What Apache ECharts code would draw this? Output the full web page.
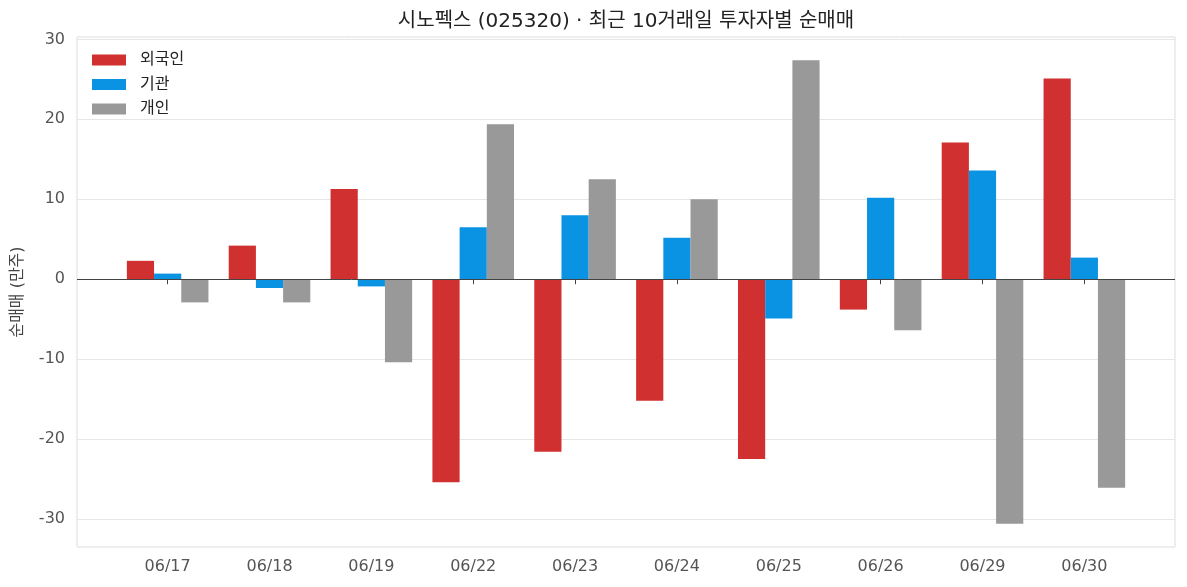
<!DOCTYPE html>
<html><head><meta charset="utf-8">
<script src="https://cdn.jsdelivr.net/npm/echarts@6/dist/echarts.min.js"></script>
<style>html,body{margin:0;padding:0;background:#fff}#c{width:1187px;height:587px}</style>
</head><body><div id="c"></div>
<script>
const categories = ['06/17','06/18','06/19','06/22','06/23','06/24','06/25','06/26','06/29','06/30'];
const foreign = [2.3, 4.2, 11.3, -25.4, -21.6, -15.2, -22.5, -3.8, 17.1, 25.1];
const institution = [0.7, -1.1, -0.9, 6.5, 8.0, 5.2, -4.9, 10.2, 13.6, 2.7];
const individual = [-2.9, -2.9, -10.4, 19.4, 12.5, 10.0, 27.4, -6.4, -30.6, -26.1];
const yTicks = [-30, -20, -10, 0, 10, 20, 30];
const seriesNames = ['외국인', '기관', '개인'];
const colors = ['#D0302F', '#0B93E3', '#999999'];

const FONT = "'DejaVu Sans', 'Noto Sans CJK KR', sans-serif";
const chart = echarts.init(document.getElementById('c'));
const toPairs = arr => arr.map((v, i) => [i, v]);
const xTickIdx = categories.map((_, i) => i);

chart.setOption({
  animation: false,
  textStyle: { fontFamily: FONT },
  title: {
    text: '시노펙스 (025320) · 최근 10거래일 투자자별 순매매',
    left: 626, top: 12, textAlign: 'center', padding: 0,
    textStyle: { fontSize: 20, fontWeight: 'normal', color: '#222', fontFamily: FONT }
  },
  legend: {
    data: seriesNames, orient: 'vertical', left: 92, top: 52, padding: 0,
    itemWidth: 34, itemHeight: 11, itemGap: 8.5,
    icon: 'rect',
    textStyle: { fontSize: 16, lineHeight: 16, color: '#222', fontFamily: FONT, padding: [0, 0, 0, 9] }
  },
  grid: { left: 77, right: 12, top: 37, bottom: 40, show: true, borderColor: '#dddddd', borderWidth: 1 },
  xAxis: {
    type: 'value', min: -0.89, max: 9.89,
    axisLine: { show: false },
    splitLine: { show: false },
    axisTick: { show: true, customValues: xTickIdx, length: 5, lineStyle: { color: '#444' } },
    axisLabel: { customValues: xTickIdx, formatter: v => categories[Math.round(v)], fontSize: 16, color: '#555', margin: 12, fontFamily: FONT }
  },
  yAxis: {
    type: 'value', min: -33.5, max: 30.3,
    name: '순매매 (만주)', nameLocation: 'middle', nameGap: 51, nameRotate: 90,
    nameTextStyle: { fontSize: 16, color: '#444', fontFamily: FONT },
    axisLine: { show: false },
    splitLine: { show: false },
    axisTick: { show: true, customValues: yTicks, length: 5, lineStyle: { color: '#444' } },
    axisLabel: { customValues: yTicks, fontSize: 16, color: '#555', margin: 12, fontFamily: FONT }
  },
  series: [
    {
      type: 'line', data: [], z: 1, silent: true,
      markLine: {
        z: 1, silent: true, symbol: ['none', 'none'], label: { show: false },
        lineStyle: { color: '#e6e6e6', width: 1, type: 'solid' },
        data: yTicks.filter(v => v !== 0).map(v => ({ yAxis: v }))
      }
    },
    { name: seriesNames[0], type: 'bar', data: toPairs(foreign), barWidth: 27.2, barGap: '0%', itemStyle: { color: colors[0] }, z: 2 },
    { name: seriesNames[1], type: 'bar', data: toPairs(institution), barWidth: 27.2, barGap: '0%', itemStyle: { color: colors[1] }, z: 2 },
    { name: seriesNames[2], type: 'bar', data: toPairs(individual), barWidth: 27.2, barGap: '0%', itemStyle: { color: colors[2] }, z: 2 },
    {
      type: 'line', data: [], z: 5, silent: true,
      markLine: {
        z: 5, silent: true, symbol: ['none', 'none'], label: { show: false },
        lineStyle: { color: '#444', width: 1, type: 'solid' },
        data: [{ yAxis: 0 }]
      }
    }
  ]
});
</script></body></html>
